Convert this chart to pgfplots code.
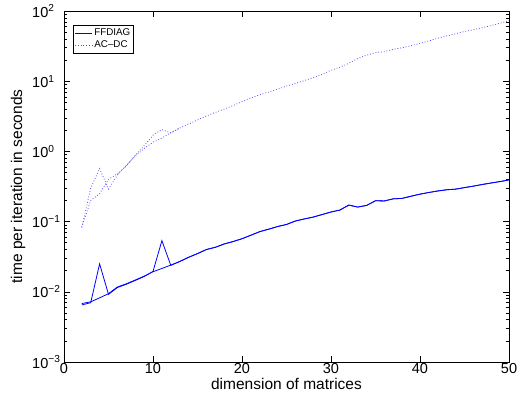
\documentclass[border=0pt]{standalone}
\usepackage{fontspec}
\setmainfont{Liberation Sans}
\usepackage{pgfplots}
\pgfplotsset{compat=1.18}
\begin{document}
\fontsize{14.5}{17}\selectfont
\begin{tikzpicture}
\useasboundingbox (-64pt,-41pt) rectangle (453pt,362pt);
\begin{axis}[
  at={(0pt,0pt)}, anchor=south west,
  scale only axis,
  width=445pt, height=351pt,
  ymode=log,
  xmin=0, xmax=50, ymin=1e-3, ymax=1e2,
  xtick={0,10,20,30,40,50},
  ytick={1e-3,1e-2,1e-1,1,10,100},
  yticklabels={10\textsuperscript{−3},10\textsuperscript{−2},10\textsuperscript{−1},10\textsuperscript{0},10\textsuperscript{1},10\textsuperscript{2}},
  xticklabel style={/pgf/number format/assume math mode=true, font=\fontsize{14.5}{17}\selectfont, inner sep=1pt},
  yticklabel style={font=\fontsize{14.5}{17}\selectfont, anchor=west, inner sep=0pt, xshift=-32pt},
  tick align=inside,
  major tick length=6pt, minor tick length=3.5pt,
  axis line style={line width=0.8pt},
  every tick/.style={black, line width=0.5pt},
  xlabel={dimension of matrices},
  ylabel={time per iteration in seconds},
  label style={font=\fontsize{15.5}{18}\selectfont},
  xlabel style={at={(axis description cs:0.5,-0.063)}, anchor=center, inner sep=0pt},
  ylabel style={at={(axis description cs:-0.103,0.5)}, anchor=center},
  legend style={at={(0.0196,0.96)}, anchor=north west, font=\fontsize{9.8}{11}\selectfont, draw=black, line width=0.8pt, inner sep=1.5pt, row sep=-1pt},
  legend cell align=left,
  legend image code/.code={\draw[#1, line width=0.8pt] (0pt,0pt) -- (17pt,0pt);},
]
\addplot[blue, line width=0.8pt] coordinates {
(2,0.0065)(3,0.0070)(4,0.0250)(5,0.0092)(6,0.0115)(7,0.0128)(8,0.0145)(9,0.0165)(10,0.0195)
(11,0.0535)(12,0.0238)(13,0.027)(14,0.031)(15,0.035)(16,0.040)(17,0.043)(18,0.048)(19,0.052)
(20,0.057)(21,0.064)(22,0.072)(23,0.078)(24,0.085)(25,0.091)(26,0.102)(27,0.109)(28,0.116)
(29,0.126)(30,0.137)(31,0.146)(32,0.172)(33,0.161)(34,0.170)(35,0.198)(36,0.197)(37,0.211)
(38,0.214)(39,0.230)(40,0.246)(41,0.260)(42,0.273)(43,0.284)(44,0.290)(45,0.305)(46,0.320)
(47,0.338)(48,0.355)(49,0.372)(50,0.392)};
\addlegendentry{FFDIAG}
\addplot[blue!70, dotted, line width=0.8pt] coordinates {
(2,0.083)(3,0.30)(4,0.57)(5,0.29)(6,0.46)(7,0.62)(8,0.88)(9,1.20)(10,1.70)(11,2.05)(12,1.82)
(13,2.15)(14,2.45)(15,2.8)(16,3.2)(17,3.6)(18,4.0)(19,4.5)(20,5.1)(21,5.8)(22,6.4)(23,7.0)
(24,7.7)(25,8.5)(26,9.3)(27,10.2)(28,11.2)(29,12.5)(30,14.3)(31,15.8)(32,18.0)(33,21.0)
(34,23.5)(35,25.5)(36,26.3)(37,28.5)(38,30.0)(39,32.0)(40,34.7)(41,37.5)(42,41)(43,44)
(44,47.5)(45,51)(46,54)(47,58)(48,62)(49,67)(50,73)};
\addlegendentry{AC--DC}
\addplot[blue, line width=0.8pt, forget plot] coordinates {
(2,0.0068)(3,0.0072)(4,0.0082)(5,0.0094)(6,0.0117)(7,0.0130)(8,0.0147)(9,0.0167)(10,0.0193)
(11,0.0215)(12,0.0240)(13,0.027)(14,0.031)(15,0.035)(16,0.040)(17,0.043)(18,0.048)(19,0.052)
(20,0.057)(21,0.064)(22,0.072)(23,0.078)(24,0.085)(25,0.091)(26,0.102)(27,0.109)(28,0.116)
(29,0.126)(30,0.137)(31,0.146)(32,0.172)(33,0.161)(34,0.170)(35,0.198)(36,0.197)(37,0.211)
(38,0.214)(39,0.230)(40,0.246)(41,0.260)(42,0.273)(43,0.284)(44,0.290)(45,0.305)(46,0.320)
(47,0.338)(48,0.355)(49,0.372)(50,0.392)};
\addplot[blue!70, dotted, line width=0.8pt, forget plot] coordinates {
(2,0.083)(3,0.20)(4,0.25)(5,0.40)(6,0.48)(7,0.63)(8,0.86)(9,1.10)(10,1.35)(11,1.55)(12,1.85)
(13,2.15)};
\end{axis}
\end{tikzpicture}
\end{document}
